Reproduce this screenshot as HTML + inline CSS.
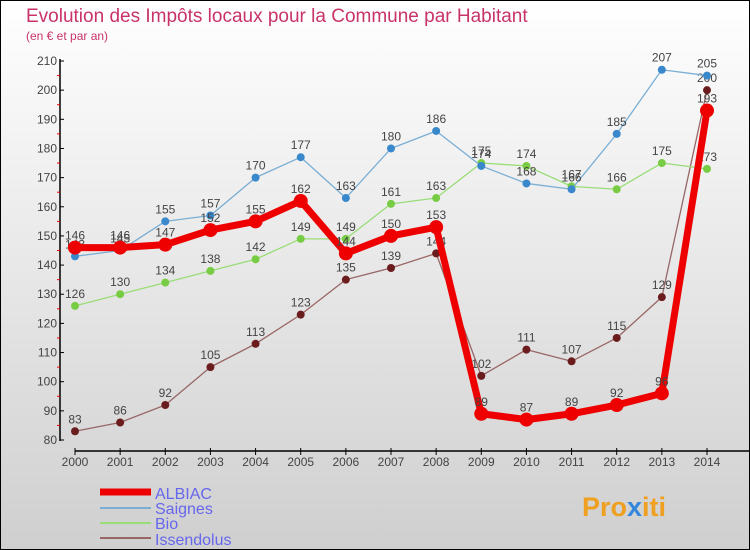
<!DOCTYPE html>
<html><head><meta charset="utf-8"><style>
body{margin:0}
#c{width:750px;height:550px;position:relative;overflow:hidden;font-family:"Liberation Sans",sans-serif}
svg text{font-family:"Liberation Sans",sans-serif}
</style></head><body>
<div id="c">
<svg id="s" width="750" height="550" xmlns="http://www.w3.org/2000/svg">
<defs><linearGradient id="bg" x1="0" y1="0" x2="0" y2="1"><stop offset="0" stop-color="#ffffff"/><stop offset="1" stop-color="#cfcfcf"/></linearGradient></defs>
<rect x="0.5" y="0.5" width="749" height="549" fill="url(#bg)" stroke="#000"/>
<text x="26" y="22" font-size="19" fill="#c8336a">Evolution des Impôts locaux pour la Commune par Habitant</text>
<text x="26" y="40" font-size="12" fill="#c8336a">(en € et par an)</text>
<g id="axes"></g><g id="series"></g>
<g>
<line x1="100" y1="492" x2="151" y2="492" stroke="#ee0000" stroke-width="7"/>
<text x="155" y="499" font-size="16" fill="#6666ee">ALBIAC</text>
<line x1="100" y1="508" x2="151" y2="508" stroke="#7aaed4" stroke-width="2"/>
<text x="155" y="514" font-size="16" fill="#6666ee">Saignes</text>
<line x1="100" y1="523" x2="151" y2="523" stroke="#99dd77" stroke-width="2"/>
<text x="155" y="529" font-size="16" fill="#6666ee">Bio</text>
<line x1="100" y1="538" x2="151" y2="538" stroke="#996666" stroke-width="2"/>
<text x="155" y="545" font-size="16" fill="#6666ee">Issendolus</text>
</g>
<text x="582" y="516" font-size="27" font-weight="bold" fill="#f0a020">Pro<tspan fill="#3388dd">x</tspan>iti</text>
</svg></div>
<script>
const years=["2000","2001","2002","2003","2004","2005","2006","2007","2008","2009","2010","2011","2012","2013","2014"];
const yTicks=[80,90,100,110,120,130,140,150,160,170,180,190,200,210];
const albiac=[146,146,147,152,155,162,144,150,153,89,87,89,92,96,193];
const saignes=[143,145,155,157,170,177,163,180,186,174,168,166,185,207,205];
const bio=[126,130,134,138,142,149,149,161,163,175,174,167,166,175,173];
const issendolus=[83,86,92,105,113,123,135,139,144,102,111,107,115,129,200];
const NS="http://www.w3.org/2000/svg";
const X=i=>75+i*(707-75)/(years.length-1);
const Y=v=>440-(v-80)*(440-61)/130;
function el(t,a,p){const e=document.createElementNS(NS,t);for(const k in a)e.setAttribute(k,a[k]);p.appendChild(e);return e;}
const ax=document.getElementById('axes');
let l=el('line',{x1:60,y1:59,x2:60,y2:441,stroke:'#000','stroke-width':1.5},ax);


l=el('line',{x1:75,y1:451,x2:750,y2:451,stroke:'#000','stroke-width':1.5},ax);


yTicks.forEach((v,i)=>{
 const t=el('line',{x1:60,y1:Y(v),x2:64,y2:Y(v),stroke:'#000'},ax);
 
 
 const tx=el('text',{x:57,y:Y(v)+4,'font-size':12,fill:'#444','text-anchor':'end'},ax);tx.textContent=v;
 
 
 if(i<yTicks.length-1){const m=el('line',{x1:57,y1:Y(v+5),x2:60,y2:Y(v+5),stroke:'#e00'},ax);
 
 }
});
years.forEach((y,i)=>{
 const t=el('line',{x1:X(i),y1:448,x2:X(i),y2:455,stroke:'#000'},ax);
 
 
 const tx=el('text',{x:X(i),y:466,'font-size':12,fill:'#444','text-anchor':'middle'},ax);tx.textContent=y;
 
 
});
const sg=document.getElementById('series');
function draw(name,d,color,w,r,dot){
 const g=el('g',{},sg);
 
 
 const p=el('polyline',{points:d.map((v,i)=>X(i)+','+Y(v)).join(' '),fill:'none',stroke:color,'stroke-width':w,'stroke-linejoin':'round'},g);
 
 
 d.forEach((v,i)=>{
  const c=el('circle',{cx:X(i),cy:Y(v),r:r,fill:dot},g);
  
  
  const t=el('text',{x:X(i),y:Y(v)-8,'font-size':12,fill:'#444','text-anchor':'middle'},g);t.textContent=v;
  
  
 });
}
draw('issendolus',issendolus,'#996666',1.3,4,'#6b1c1c');
draw('bio',bio,'#99dd77',1.3,4,'#77cc44');
draw('saignes',saignes,'#7aaed4',1.3,4,'#3a88cc');
draw('albiac',albiac,'#ee0000',7,7,'#ee0000');
</script>
</body></html>
